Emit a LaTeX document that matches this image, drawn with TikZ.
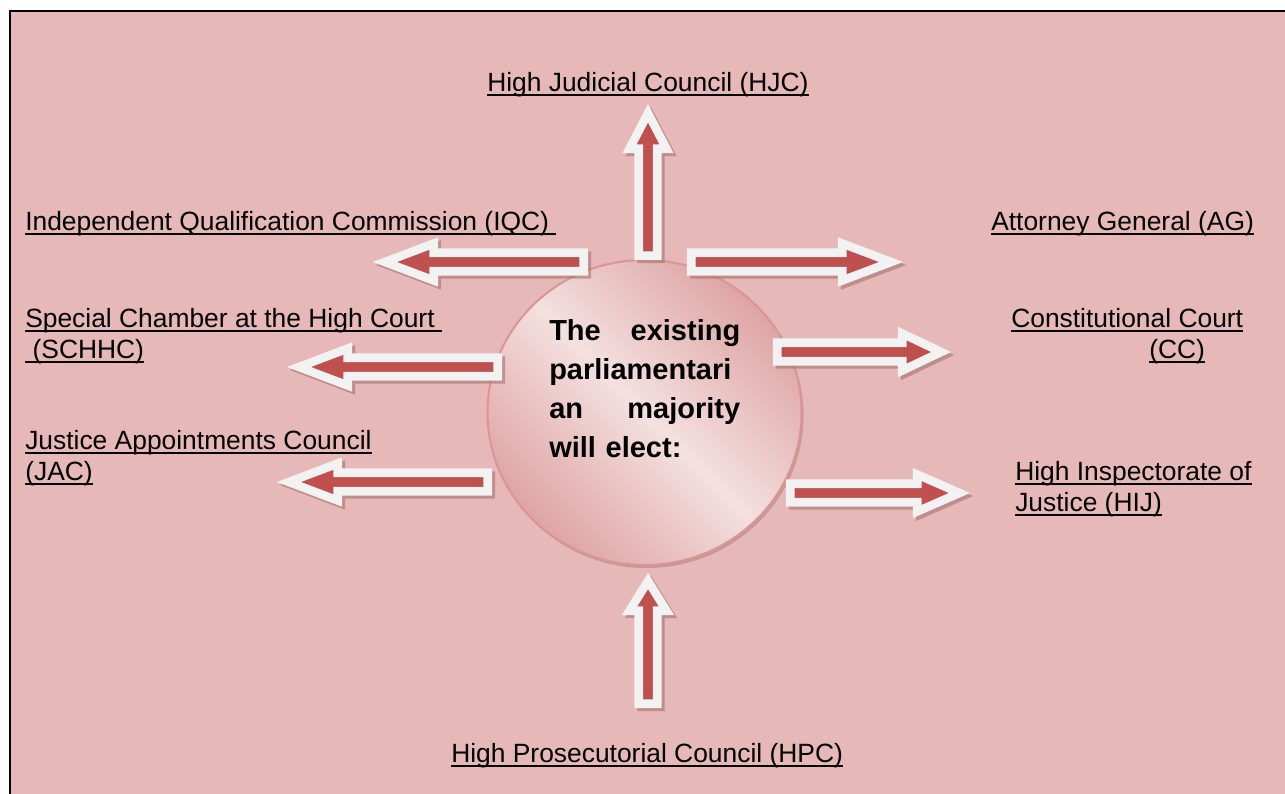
\documentclass[tikz,border=0pt]{standalone}
\usepackage{fontspec}
\setmainfont{Liberation Sans}
\usetikzlibrary{shapes.geometric}
\definecolor{bgpink}{RGB}{230,184,183}
\definecolor{arrowred}{RGB}{192,80,77}
\definecolor{arrowwhite}{RGB}{242,242,242}
\definecolor{arrowshade}{RGB}{168,112,112}
\definecolor{ringline}{RGB}{217,150,148}
\definecolor{corelight}{RGB}{244,224,224}
\definecolor{coredark}{RGB}{222,164,163}
\newcommand\ulx[1]{\setbox0=\hbox{#1}\rlap{\rule[-3.9pt]{\wd0}{1.5pt}}\box0}
\tikzset{
  lbl/.style={inner sep=0pt, anchor=base west, font=\fontsize{19.8pt}{23.25pt}\selectfont},
  arrowbody/.style={fill=arrowred, draw=arrowwhite, line width=6.4pt, line join=miter, miter limit=10},
  arrowshadow/.style={fill=arrowshade, draw=arrowshade, line width=6.4pt, line join=miter, miter limit=10, opacity=0.6},
  pics/barrow/.style n args={3}{code={
    \path[#3] (4.25,-9.25) -- ({#1-#2+4.25},-9.25) -- ({#1-#2+4.25},-18.5)
      -- ({#1-8-(#2-42)*0.17},0) -- ({#1-#2+4.25},18.5) -- ({#1-#2+4.25},9.25)
      -- (4.25,9.25) -- cycle;
  }},
  coreshape/.style={ellipse, inner sep=0pt, minimum width=235.5pt, minimum height=228.75pt}
}
\begin{document}
\begin{tikzpicture}[x=0.75pt,y=-0.75pt]
\useasboundingbox (0,0) rectangle (1285,793);
\fill[white] (0,0) rectangle (1285,793);
\clip (0,0) rectangle (1285,793);
\filldraw[fill=bgpink, draw=black, line width=1.5pt] (10,11) rectangle (1300,810);

% central disc
\node[coreshape, fill=arrowshade, opacity=0.45] (coreshadow) at (646.5,415.5) {};
\node[coreshape, draw=ringline, line width=1.5pt, left color=coredark, right color=coredark, middle color=corelight, shading angle=135] (core) at (644.5,412.5) {};

% arrow shadows
\pic[rotate=90]  at (651,263) {barrow={156}{49}{arrowshadow}};
\pic[rotate=180] at (591,265) {barrow={215}{65}{arrowshadow}};
\pic             at (690,265) {barrow={216}{65}{arrowshadow}};
\pic[rotate=180] at (505,370) {barrow={215}{65}{arrowshadow}};
\pic             at (776,355) {barrow={178}{53}{arrowshadow}};
\pic[rotate=180] at (495,485) {barrow={215}{65}{arrowshadow}};
\pic             at (789,496) {barrow={184}{57}{arrowshadow}};
\pic[rotate=90]  at (651,711) {barrow={135}{42}{arrowshadow}};

% arrows
\pic[rotate=90]  (arrowhjc)   at (648,260) {barrow={156}{49}{arrowbody}};
\pic[rotate=180] (arrowiqc)   at (588,262) {barrow={215}{65}{arrowbody}};
\pic             (arrowag)    at (687,262) {barrow={216}{65}{arrowbody}};
\pic[rotate=180] (arrowschhc) at (502,367) {barrow={215}{65}{arrowbody}};
\pic             (arrowcc)    at (773,352) {barrow={178}{53}{arrowbody}};
\pic[rotate=180] (arrowjac)   at (492,482) {barrow={215}{65}{arrowbody}};
\pic             (arrowhij)   at (786,493) {barrow={184}{57}{arrowbody}};
\pic[rotate=90]  (arrowhpc)   at (648,708) {barrow={135}{42}{arrowbody}};

% central text
\node[anchor=base west, inner sep=0pt, text width=143.25pt, align=left,
      font=\bfseries\fontsize{21.75pt}{29.25pt}\selectfont] (coretext) at (549,340)
  {The\hfill existing\\parliamentari\\an\hfill majority\\will elect:};

% labels
\node[lbl] (hjc)    at (487,91)   {\ulx{High Judicial Council (HJC)}};
\node[lbl] (iqc)    at (25,230)   {\ulx{Independent Qualification Commission (IQC) }};
\node[lbl] (ag)     at (991,230)  {\ulx{Attorney General (AG)}};
\node[lbl] (schhc)  at (25,327)   {\ulx{Special Chamber at the High Court }};
\node[lbl] (schhc2) at (25,358)   {\ulx{ (SCHHC)}};
\node[lbl] (cc)     at (1011,327) {\ulx{Constitutional Court}};
\node[lbl] (cc2)    at (1149,358) {\ulx{(CC)}};
\node[lbl] (jac)    at (25,449)   {\ulx{Justice Appointments Council}};
\node[lbl] (jac2)   at (25,480)   {\ulx{(JAC)}};
\node[lbl] (hij)    at (1015,480) {\ulx{High Inspectorate of}};
\node[lbl] (hij2)   at (1015,511) {\ulx{Justice (HIJ)}};
\node[lbl] (hpc)    at (451,762)  {\ulx{High Prosecutorial Council (HPC)}};
\end{tikzpicture}
\end{document}
